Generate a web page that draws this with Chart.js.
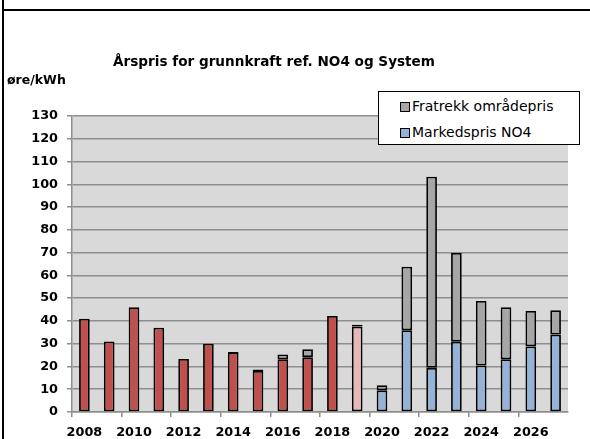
<!DOCTYPE html>
<html>
<head>
<meta charset="utf-8">
<script src="https://cdn.jsdelivr.net/npm/chart.js@4"></script>
<style>
  html, body { margin: 0; padding: 0; background: #fff; }
  #wrap { position: relative; width: 590px; height: 439px; overflow: hidden; }
  #frameLeft { position: absolute; left: 2px; top: 0; width: 2px; height: 439px; background: #000; }
  #frameTop { position: absolute; left: 2px; top: 9px; width: 588px; height: 2px; background: #000; }
  #title { position: absolute; left: 0; width: 548px; top: 53px; text-align: center;
    font: bold 13.6px "DejaVu Sans", sans-serif; color: #000; }
  #unit { position: absolute; left: 7px; top: 72px; font: bold 12.5px "DejaVu Sans", sans-serif; color: #000; }
  #legend { position: absolute; left: 378px; top: 91px; width: 202px; height: 54px;
    border: 1.5px solid #000; background: #fff; box-sizing: border-box; padding: 5px 0 0 21px;
    font: 14px "DejaVu Sans", sans-serif; color: #000; }
  .item { height: 26px; line-height: 18px; }
  .sw { display: inline-block; width: 8px; height: 8px; border: 1.5px solid #000; margin-right: 2px; vertical-align: -1px; }
  canvas { position: absolute; left: 0; top: 0; }
</style>
</head>
<body>
<div id="wrap">
  <canvas id="chart" width="590" height="439"></canvas>
  <div id="frameLeft"></div>
  <div id="frameTop"></div>
  <div id="title">Årspris for grunnkraft ref. NO4 og System</div>
  <div id="unit">øre/kWh</div>
  <div id="legend"></div>
</div>
<script>
  // --- Data ---
  const years = [2008, 2009, 2010, 2011, 2012, 2013, 2014, 2015, 2016, 2017,
    2018, 2019, 2020, 2021, 2022, 2023, 2024, 2025, 2026, 2027];
  // historical system price (red), 2008-2018
  const historisk = [41, 31, 46, 37, 23.3, 30, 26.3, 18, 23.2, 24.1,
    42.2, null, null, null, null, null, null, null, null, null];
  // 2019 (light red)
  const estimat2019 = [null, null, null, null, null, null, null, null, null, null,
    null, 37.5, null, null, null, null, null, null, null, null];
  const markedspris = [null, null, null, null, null, null, null, null, null, null,
    null, null, 9.5, 35.9, 19.4, 30.9, 20.4, 23.2, 28.8, 34];
  const fratrekk = [null, null, null, null, null, null, null, 0.7, 2.1, 3.5,
    null, 0.8, 2.3, 27.9, 83.9, 38.9, 28.4, 22.8, 15.6, 10.7];
  const yTicks = [0, 10, 20, 30, 40, 50, 60, 70, 80, 90, 100, 110, 120, 130];

  const tickFont = { family: "DejaVu Sans", size: 12.8, weight: "bold" };
  const gridGray = "#8e8e8e";

  // plot background
  const plotBg = {
    id: "plotBg",
    beforeDraw(chart) {
      const a = chart.chartArea;
      const ctx = chart.ctx;
      ctx.save();
      ctx.fillStyle = "#d9d9d9";
      ctx.fillRect(a.left, a.top, a.right - a.left, a.bottom - a.top);
      ctx.restore();
    },
  };

  const barStyle = {
    borderColor: "#000",
    borderWidth: 1.8,
    borderSkipped: false,
    barPercentage: 0.43,
    categoryPercentage: 1,
    stack: "s",
  };

  const chart = new Chart(document.getElementById("chart"), {
    type: "bar",
    data: {
      labels: years,
      datasets: [
        { label: "Historisk", data: historisk, backgroundColor: "#c0504d", ...barStyle },
        { label: "2019", data: estimat2019, backgroundColor: "#e6b9b8", ...barStyle },
        { label: "Markedspris NO4", data: markedspris, backgroundColor: "#95b3d7", ...barStyle },
        { label: "Fratrekk områdepris", data: fratrekk, backgroundColor: "#a6a6a6", ...barStyle },
      ],
    },
    options: {
      responsive: false,
      animation: false,
      layout: { padding: { left: 0, top: 116, right: 22, bottom: 0 } },
      plugins: {
        legend: { display: false },
        title: { display: false },
        tooltip: { enabled: false },
      },
      scales: {
        x: {
          stacked: true,
          offset: true,
          afterFit: (s) => { s.height = 27; },
          grid: {
            offset: true,
            drawOnChartArea: false,
            tickLength: 5,
            lineWidth: 1.5,
            color: (c) => (c.index % 2 === 0 ? gridGray : "rgba(0,0,0,0)"),
          },
          border: { display: true, color: gridGray, width: 1.5 },
          ticks: {
            autoSkip: false,
            maxRotation: 0,
            padding: 8,
            color: "#000",
            font: tickFont,
            callback: (v, i) => (i % 2 === 0 ? String(years[i]) : ""),
          },
        },
        y: {
          stacked: true,
          min: 0,
          max: 130,
          afterFit: (s) => { s.width = 72; },
          afterBuildTicks: (s) => { s.ticks = yTicks.map((v) => ({ value: v })); },
          grid: { color: gridGray, lineWidth: 1.5, tickLength: 5 },
          border: { display: true, color: gridGray, width: 1.5 },
          ticks: { padding: 9, color: "#000", font: tickFont },
        },
      },
    },
    plugins: [plotBg],
  });

  // legend box, Excel style (top series first)
  const legendEl = document.getElementById("legend");
  [3, 2].forEach((i) => {
    const ds = chart.data.datasets[i];
    const row = document.createElement("div");
    row.className = "item";
    row.innerHTML = '<span class="sw" style="background:' + ds.backgroundColor + '"></span>' + ds.label;
    legendEl.appendChild(row);
  });
</script>
</body>
</html>
